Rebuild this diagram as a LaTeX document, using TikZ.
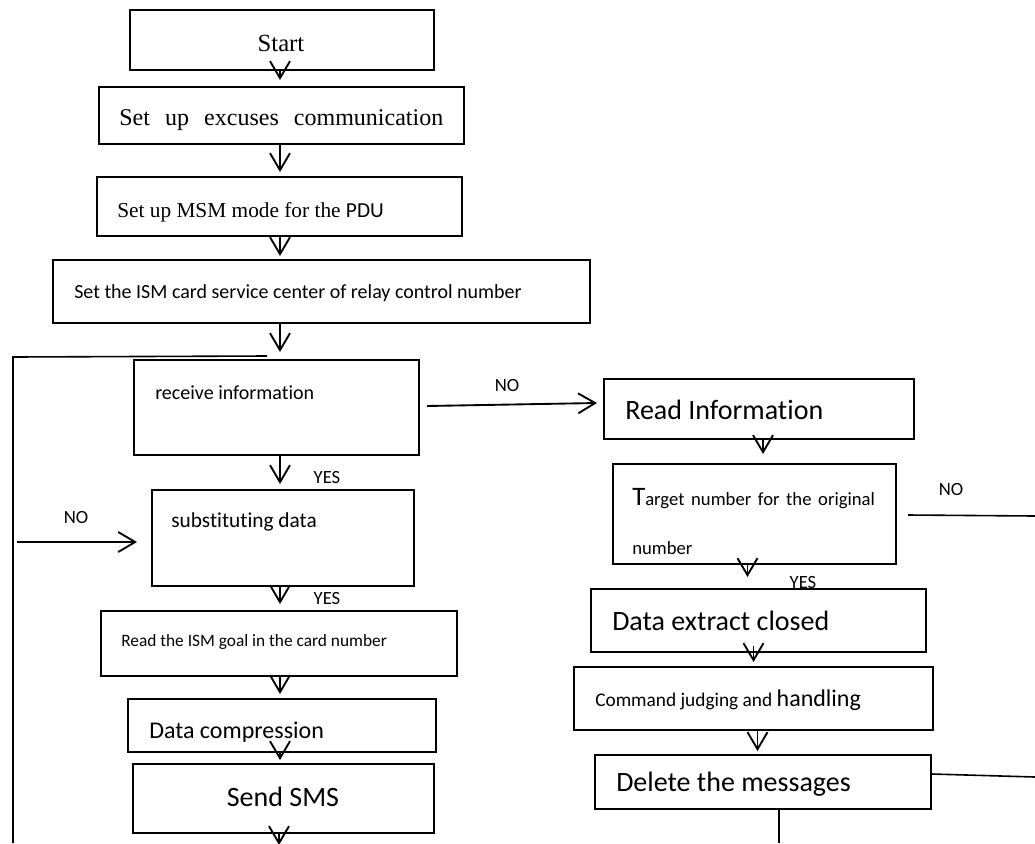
\documentclass[tikz,border=0pt]{standalone}
\usepackage{fontspec}
\setmainfont{Liberation Serif}
\newfontfamily\calibri{Carlito}[Ligatures=NoCommon]
\usetikzlibrary{arrows.meta,fit,calc}

\newcommand\sz[1]{\fontsize{#1}{#1}\selectfont}

\tikzset{
  box/.style={draw, line width=1.5pt, inner sep=0pt},
  txt/.style={inner sep=0pt, anchor=west, font=\calibri},
  tag/.style={inner sep=0pt, font=\calibri\sz{14}},
  flow/.style={line width=1.4pt, -{Straight Barb[length=12.75pt,width=15pt]}},
  wire/.style={line width=1.2pt},
}

\begin{document}
\begin{tikzpicture}[x=0.75pt,y=-0.75pt]
  \useasboundingbox (0,0) rectangle (1035,843);
  \coordinate (spine) at (280,0);

  % left column
  \node[box, fit={(130,10) (434,70)}] (start) {};
  \node[box, fit={(99,87) (464,144)}] (comm) {};
  \node[box, fit={(97,177) (462,236)}] (msm) {};
  \node[box, fit={(53,260) (590,323)}] (relay) {};
  \node[box, fit={(134,360) (419,455)}] (recv) {};
  \node[box, fit={(152,490) (414,586)}] (subst) {};
  \node[box, fit={(101,611) (457,676)}] (goal) {};
  \node[box, fit={(128,699) (436,752)}] (compr) {};
  \node[box, fit={(133,764) (434,833)}] (sms) {};

  % right column
  \node[box, fit={(604,379) (914,439)}] (readinfo) {};
  \node[box, fit={(613,464) (896,564)}] (target) {};
  \node[box, fit={(591,589) (926,652)}] (extract) {};
  \node[box, fit={(574,667) (933,730)}] (command) {};
  \node[box, fit={(595,755) (931,809)}] (delete) {};

  % texts
  \node[inner sep=0pt, font=\sz{18.5}] (t-start) at (281,43) {Start};
  \node[inner sep=0pt, anchor=west, font=\sz{18}] (t-comm) at (119,120)
    {\makebox[243pt][s]{Set up excuses communication}};
  \node[inner sep=0pt, anchor=west, font=\sz{16}] (t-msm) at (117,212)
    {Set up MSM mode for the {\calibri PDU}};
  \node[txt, font=\calibri\sz{15}] (t-relay) at (74,293)
    {Set the ISM card service center of relay control number};
  \node[txt, font=\calibri\sz{15}] (t-recv) at (155,393) {receive information};
  \node[txt, font=\calibri\sz{16}] (t-subst) at (171,522) {substituting data};
  \node[txt, font=\calibri\sz{13}] (t-goal) at (121,642) {Read the ISM goal in the card number};
  \node[txt, font=\calibri\sz{18}] (t-compr) at (149,732) {Data compression};
  \node[inner sep=0pt, font=\calibri\sz{21}] (t-sms) at (283,797) {Send SMS};

  \node[txt, font=\calibri\sz{21}] (t-readinfo) at (625,410) {Read Information};
  \node[txt, align=left, font=\calibri\fontsize{14}{36.75}\selectfont] (t-target) at (632,522)
    {\makebox[182pt][s]{{\sz{20}T}arget number for the original}\\number};
  \node[txt, font=\calibri\sz{21}] (t-extract) at (612,621) {Data extract closed};
  \node[txt, font=\calibri\sz{14.5}] (t-command) at (595,700)
    {Command judging and {\sz{18}handling}};
  \node[txt, font=\calibri\sz{21}] (t-delete) at (616,784) {Delete the messages};

  % labels
  \node[tag] (no-recv) at (507,385) {NO};
  \node[tag] (yes-recv) at (327,477) {YES};
  \node[tag] (no-subst) at (76,517) {NO};
  \node[tag] (yes-subst) at (327,598) {YES};
  \node[tag] (no-target) at (951,489) {NO};
  \node[tag] (yes-target) at (803,582) {YES};

  % main flow
  \draw[flow, shorten >=4.5pt] (start.south -| spine) -- (comm.north -| spine);
  \draw[flow, shorten >=3pt] (comm.south -| spine) -- (msm.north -| spine);
  \draw[flow, shorten >=2.25pt] (msm.south -| spine) -- (relay.north -| spine);
  \draw[flow, shorten >=5.25pt] (relay.south -| spine) -- (recv.north -| spine);
  \draw[flow, shorten >=3.75pt] (recv.south -| spine) -- (subst.north -| spine);
  \draw[flow, shorten >=4.5pt] (subst.south -| spine) -- (goal.north -| spine);
  \draw[flow, shorten >=3pt] (goal.south -| spine) -- (compr.north -| spine);
  \draw[flow, shorten >=2.25pt] (compr.south -| spine) -- (sms.north -| spine);
  \coordinate (sms-out) at (279,845);
  \draw[flow] (sms.south -| sms-out) -- (sms-out);

  % loop back
  \coordinate (loop-top) at (13,357);
  \coordinate (loop-end) at (13,843);
  \draw[wire] ($(recv.north -| spine)+(-13,-3)$) -- (loop-top) -- (loop-end);
  \coordinate (no-in) at (17,542);
  \draw[flow, shorten >=10.5pt] (no-in) -- (no-in -| subst.west);

  % right branch
  \draw[flow] ($(recv.east)+(7,-1.5)$) -- ($(readinfo.west)+(-6,-6)$);
  \draw[flow, shorten >=6.75pt] ($(readinfo.south)+(4,0)$) -- ($(readinfo.south |- target.north)+(4,0)$);
  \draw[flow, shorten >=8.25pt] ($(target.south)+(-7,0)$) -- ($(target.south |- extract.north)+(-7,0)$);
  \draw[flow, shorten >=3pt] ($(extract.south)+(-5,-7)$) -- ($(extract.south |- command.north)+(-5,0)$);
  \draw[flow, shorten >=2.25pt] ($(command.south)+(4,0)$) -- ($(command.south |- delete.north)+(4,0)$);

  \coordinate (no-out) at (1035,516);
  \draw[wire] ($(target.east)+(11,1)$) -- (no-out);
  \coordinate (del-out) at (1035,777);
  \draw[wire] ($(delete.east)+(0,-8)$) -- (del-out);
  \coordinate (del-down) at (779,843);
  \draw[wire] (del-down |- delete.south) -- (del-down);
\end{tikzpicture}
\end{document}
